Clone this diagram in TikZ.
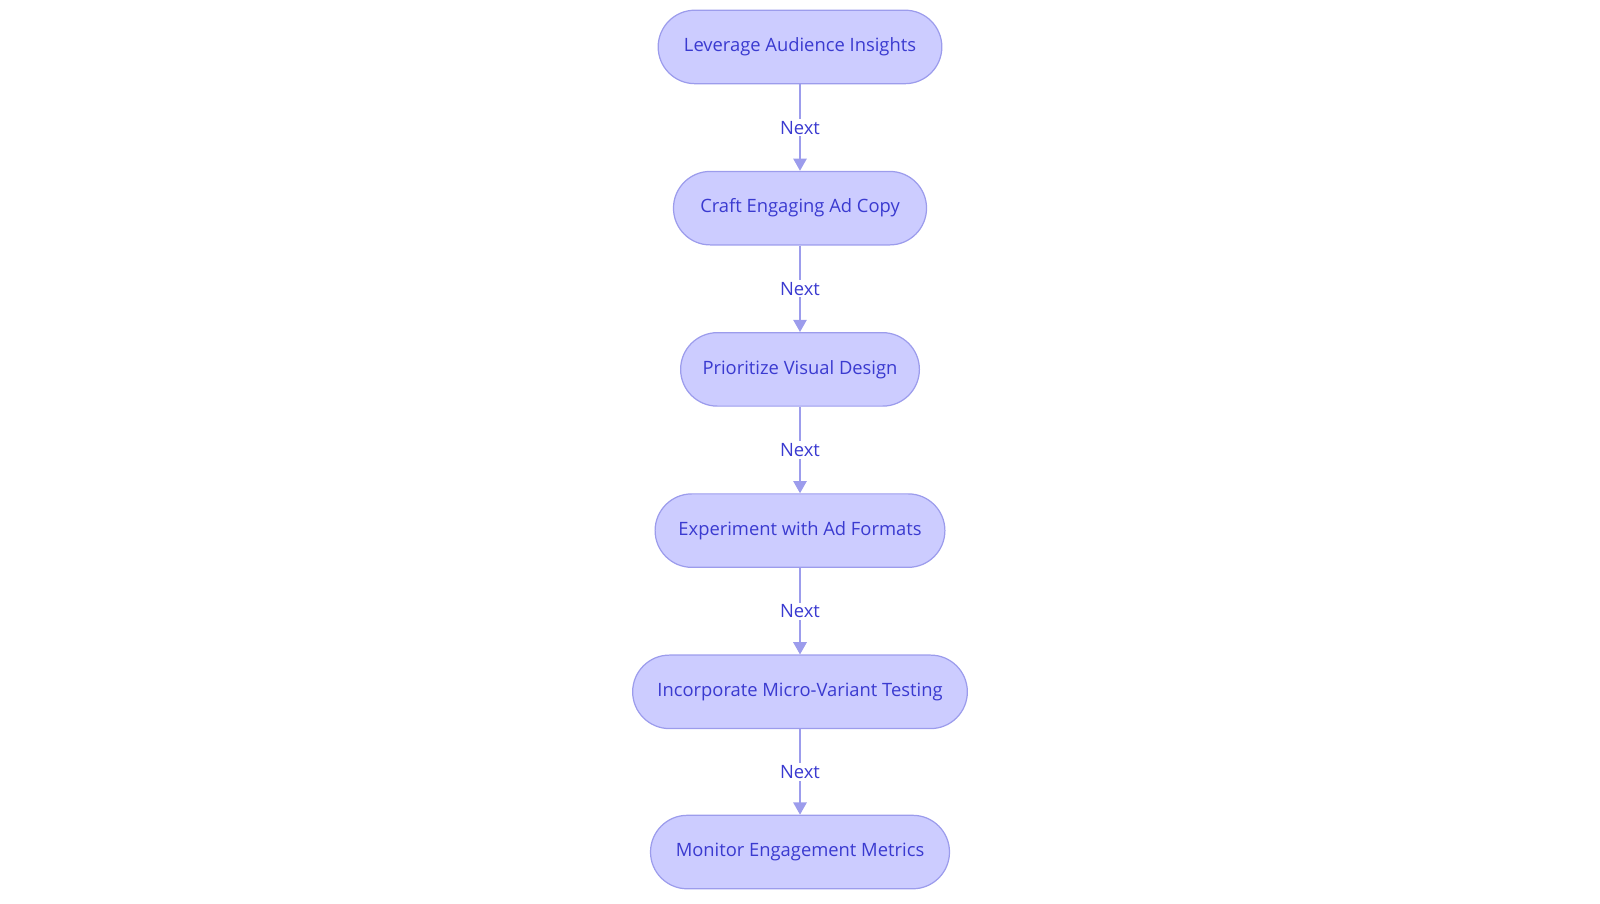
\documentclass[tikz,border=0pt]{standalone}
\usepackage{fontspec}
\setmainfont{Open Sans}
\usetikzlibrary{arrows.meta}
\definecolor{boxfill}{HTML}{CCCCFF}
\definecolor{boxline}{HTML}{9C9CEC}
\definecolor{txt}{HTML}{3A3AD0}
\begin{document}
\begin{tikzpicture}[x=1pt,y=-1pt,
  stepbox/.style={draw=boxline,fill=boxfill,line width=1.2pt,rounded corners=36pt,minimum height=72pt,text=txt,font=\fontsize{18}{21}\selectfont,inner sep=0pt},
  conn/.style={draw=boxline,line width=2pt,-{Triangle[length=12pt,width=13pt]}},
  lbl/.style={fill=white,text=txt,font=\fontsize{18}{21}\selectfont,inner sep=2pt}]
\useasboundingbox (0,0) rectangle (1568,885);
\node[stepbox,minimum width=278pt] (a) at (784,46) {Leverage Audience Insights};
\node[stepbox,minimum width=248pt] (b) at (784,204) {Craft Engaging Ad Copy};
\node[stepbox,minimum width=234pt] (c) at (784,362) {Prioritize Visual Design};
\node[stepbox,minimum width=284pt] (d) at (784,520) {Experiment with Ad Formats};
\node[stepbox,minimum width=328pt] (e) at (784,678) {Incorporate Micro-Variant Testing};
\node[stepbox,minimum width=293pt] (f) at (784,835) {Monitor Engagement Metrics};
\foreach \s/\t in {a/b,b/c,c/d,d/e,e/f}
  \draw[conn] (\s) -- node[lbl]{Next} (\t);
\end{tikzpicture}
\end{document}
